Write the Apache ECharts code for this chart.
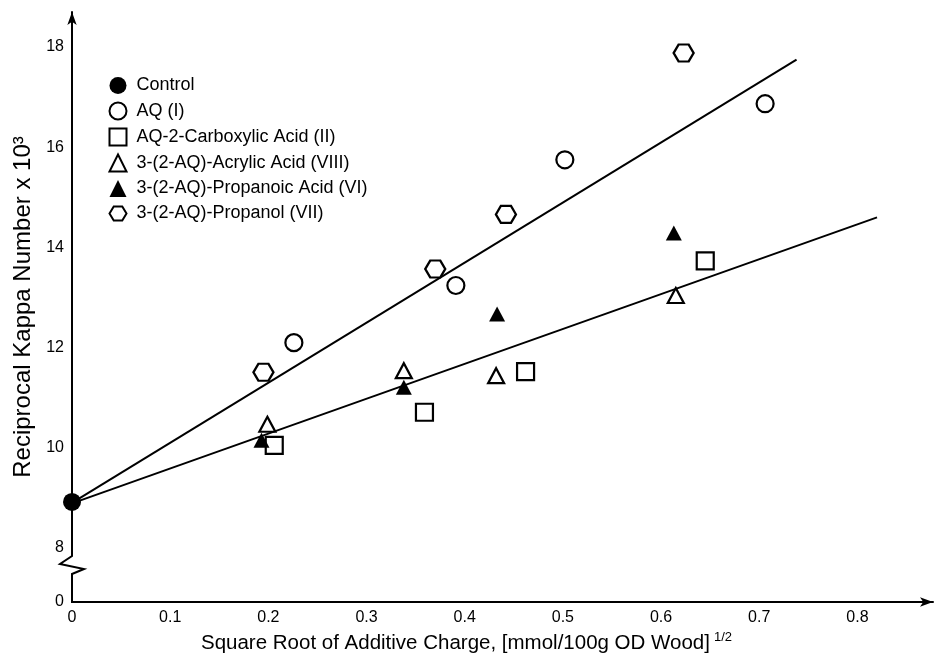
<!DOCTYPE html>
<html><head><meta charset="utf-8">
<script src="https://cdn.jsdelivr.net/npm/echarts@6/dist/echarts.min.js"></script>
<style>html,body{margin:0;padding:0;background:#fff}#c{width:935px;height:660px}</style>
</head><body><div id="c"></div>
<script>
// ---- data ----
const seriesNames = ['Control','AQ (I)','AQ-2-Carboxylic Acid (II)','3-(2-AQ)-Acrylic Acid (VIII)','3-(2-AQ)-Propanoic Acid (VI)','3-(2-AQ)-Propanol (VII)'];
const controlPts    = [[0, 8.92]];
const aqPts         = [[0.226, 12.10], [0.391, 13.24], [0.502, 15.75], [0.706, 16.87]];
const carboxylicPts = [[0.206, 10.05], [0.359, 10.71], [0.462, 11.52], [0.645, 13.73]];
const acrylicPts    = [[0.199, 10.47], [0.338, 11.54], [0.432, 11.44], [0.615, 13.04]];
const propanoicPts  = [[0.193, 10.15], [0.338, 11.21], [0.433, 12.67], [0.613, 14.29]];
const propanolPts   = [[0.195, 11.51], [0.370, 13.57], [0.442, 14.66], [0.623, 17.88]];
const upperFit      = [[0, 8.90], [0.738, 17.75]];
const lowerFit      = [[0, 8.89], [0.820, 14.60]];
const xTickValues   = [0, 0.1, 0.2, 0.3, 0.4, 0.5, 0.6, 0.7, 0.8];
const xTickLabels   = ['0', '0.1', '0.2', '0.3', '0.4', '0.5', '0.6', '0.7', '0.8'];
const yTickValues   = [0, 8, 10, 12, 14, 16, 18];
const yTickLabels   = ['0', '8', '10', '12', '14', '16', '18'];
const yBreak        = {start: 0, end: 8};

const FONT = 'Liberation Sans, Arial, Helvetica, sans-serif';
const hexagon = 'path://M0,5 L3,0 L9,0 L12,5 L9,10 L3,10 Z';

const chart = echarts.init(document.getElementById('c'), null, {renderer: 'canvas'});

function scatter(name, data, symbol, size, filled) {
  return {
    name, type: 'scatter', data, symbol, symbolSize: size, z: 5,
    itemStyle: {color: filled ? '#000' : '#fff', borderColor: '#000', borderWidth: filled ? 0 : 2.2, opacity: 1}
  };
}
function fit(data) {
  return {type: 'line', data, showSymbol: false, silent: true, z: 3,
    lineStyle: {color: '#000', width: 2}};
}

chart.setOption({
  animation: false,
  backgroundColor: '#fff',
  grid: {left: 72, right: 2, top: 12, bottom: 58, containLabel: false},
  legend: {
    data: seriesNames, orient: 'vertical', left: 103.5, top: 71.5,
    itemWidth: 17, itemHeight: 17, itemGap: 7,
    textStyle: {fontFamily: FONT, fontSize: 18, color: '#000', padding: [0, 0, 0, 5]},
    selectedMode: false
  },
  xAxis: {
    type: 'value', min: 0, max: 0.877, interval: 0.1,
    axisLine: {show: true, lineStyle: {color: '#000', width: 2}, symbol: ['none', 'arrow'], symbolSize: [7, 13]},
    axisTick: {show: false}, splitLine: {show: false},
    axisLabel: {
      customValues: xTickValues,
      formatter: v => xTickLabels[xTickValues.findIndex(t => Math.abs(t - v) < 1e-6)] ?? '',
      fontFamily: FONT, fontSize: 16, color: '#000', margin: 8
    },
    name: '{a|Square Root of Additive Charge, [mmol/100g OD Wood]}{s|1/2}',
    nameLocation: 'middle', nameGap: 27,
    nameTextStyle: {padding: [0, 72, 0, 0],
      rich: {a: {fontFamily: FONT, fontSize: 20.5, color: '#000', lineHeight: 25},
             s: {fontFamily: FONT, fontSize: 13, color: '#000', verticalAlign: 'top', lineHeight: 14, padding: [0, 0, 0, 4]}}}
  },
  yAxis: {
    type: 'value', min: 0, max: 18.7, interval: 2,
    breaks: [{start: yBreak.start, end: yBreak.end, gap: '9.15%'}],
    breakArea: {show: false},
    axisLine: {show: true, onZero: false, lineStyle: {color: '#000', width: 2}, symbol: ['none', 'arrow'], symbolSize: [7, 13]},
    axisTick: {show: false}, splitLine: {show: false},
    axisLabel: {
      customValues: yTickValues,
      formatter: v => yTickLabels[yTickValues.findIndex(t => Math.abs(t - v) < 1e-6)] ?? '',
      fontFamily: FONT, fontSize: 16, color: '#000', margin: 8
    },
    name: 'Reciprocal Kappa Number x 10³',
    nameLocation: 'middle', nameGap: 37,
    nameTextStyle: {fontFamily: FONT, fontSize: 24, color: '#000'}
  },
  series: [
    fit(upperFit), fit(lowerFit),
    scatter(seriesNames[0], controlPts, 'circle', 18, true),
    scatter(seriesNames[1], aqPts, 'circle', 17, false),
    scatter(seriesNames[2], carboxylicPts, 'rect', 17, false),
    scatter(seriesNames[3], acrylicPts, 'triangle', [16, 15], false),
    scatter(seriesNames[4], propanoicPts, 'triangle', [16, 15], true),
    scatter(seriesNames[5], propanolPts, hexagon, [20, 17], false)
  ]
});

// axis segment across the break, with its zig-zag, placed from the axis scale
const p8 = chart.convertToPixel({gridIndex: 0}, [0, yBreak.end]);
const p0 = chart.convertToPixel({gridIndex: 0}, [0, yBreak.start]);
const ax = p8[0], t = p8[1] + 8;
chart.setOption({
  graphic: [
    {type: 'polyline', z: 51,
     shape: {points: [[ax, p8[1] - 1], [ax, t], [ax - 12, t + 8], [ax + 12, t + 13], [ax, t + 18], [ax, p0[1] + 1]]},
     style: {stroke: '#000', lineWidth: 2, fill: null, lineJoin: 'miter'}}
  ]
});
</script></body></html>
